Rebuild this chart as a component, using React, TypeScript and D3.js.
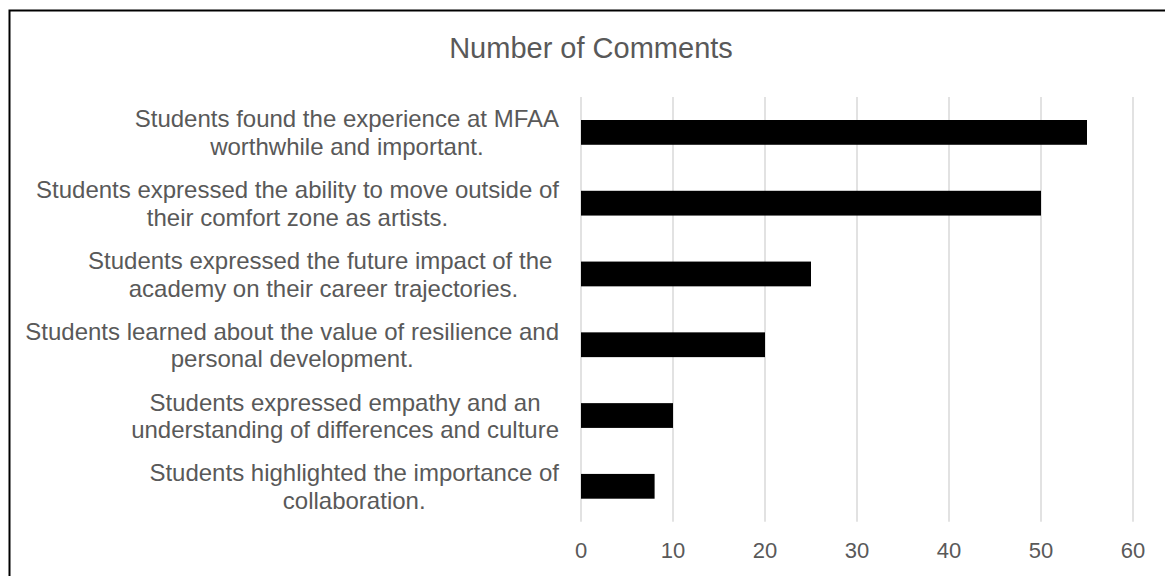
import React, { useEffect, useRef } from 'react';
import * as d3 from 'd3';

// each category label is split in two lines, as in the original chart
const categories = [
  ['Students found the experience at MFAA', 'worthwhile and important.'],
  ['Students expressed the ability to move outside of', 'their comfort zone as artists.'],
  ['Students expressed the future impact of the ', 'academy on their career trajectories.'],
  ['Students learned about the value of resilience and', 'personal development.'],
  ['Students expressed empathy and an', 'understanding of differences and culture'],
  ['Students highlighted the importance of', 'collaboration.'],
];
const commentCounts = [55, 50, 25, 20, 10, 8];
const xTicks = [0, 10, 20, 30, 40, 50, 60];
const chartTitle = 'Number of Comments';

const W = 1165;
const H = 576;
const FONT = '"Liberation Sans", Arial, sans-serif';
const GREY = '#595959';

export default function App() {
  const ref = useRef<SVGSVGElement | null>(null);

  useEffect(() => {
    const svg = d3.select(ref.current);
    svg.selectAll('*').remove();

    const left = 581, right = 1133, top = 97, bottom = 521.7;

    const x = d3.scaleLinear().domain([0, 60]).range([left, right]);
    const y = d3.scaleBand<number>()
      .domain(d3.range(categories.length))
      .range([top, bottom])
      .paddingInner(0.65)
      .paddingOuter(0.325);

    svg.append('rect')
      .attr('width', W).attr('height', H).attr('fill', '#fff');

    // chart frame (runs past the right and bottom edges)
    svg.append('rect')
      .attr('x', 9.5).attr('y', 10.5)
      .attr('width', W + 20).attr('height', H + 20)
      .attr('fill', 'none').attr('stroke', '#000').attr('stroke-width', 2);

    svg.append('text')
      .attr('x', 591).attr('y', 58)
      .attr('text-anchor', 'middle')
      .attr('font-family', FONT).attr('font-size', 29)
      .attr('fill', GREY)
      .text(chartTitle);

    // gridlines
    svg.append('g').selectAll('line')
      .data(xTicks).enter().append('line')
      .attr('x1', d => x(d)).attr('x2', d => x(d))
      .attr('y1', top).attr('y2', bottom)
      .attr('stroke', '#d9d9d9').attr('stroke-width', 1.5);

    // tick labels
    svg.append('g').selectAll('text')
      .data(xTicks).enter().append('text')
      .attr('x', d => x(d)).attr('y', 558)
      .attr('text-anchor', 'middle')
      .attr('font-family', FONT).attr('font-size', 22)
      .attr('fill', GREY)
      .text(d => d);

    // bars
    svg.append('g').selectAll('rect')
      .data(commentCounts).enter().append('rect')
      .attr('x', x(0))
      .attr('y', (d, i) => y(i) as number)
      .attr('width', d => x(d) - x(0))
      .attr('height', y.bandwidth())
      .attr('fill', '#000');

    // category labels: centred lines, block right-aligned to the axis
    const labelRight = 559;
    categories.forEach((lines, i) => {
      const cy = (y(i) as number) + y.bandwidth() / 2;
      const g = svg.append('g');
      const texts = g.selectAll('text')
        .data(lines).enter().append('text')
        .attr('y', (d, j) => cy - 4.9 + j * 27.5)
        .attr('text-anchor', 'middle')
        .attr('font-family', FONT).attr('font-size', 24)
        .attr('fill', GREY)
        .style('white-space', 'pre')
        .text(d => d);
      let maxW = 0;
      texts.each(function () {
        maxW = Math.max(maxW, (this as SVGTextElement).getComputedTextLength());
      });
      texts.attr('x', labelRight - maxW / 2);
    });
  }, []);

  return (
    <svg
      ref={ref}
      width={W}
      height={H}
      style={{ position: 'absolute', left: 0, top: 0, display: 'block' }}
    />
  );
}
